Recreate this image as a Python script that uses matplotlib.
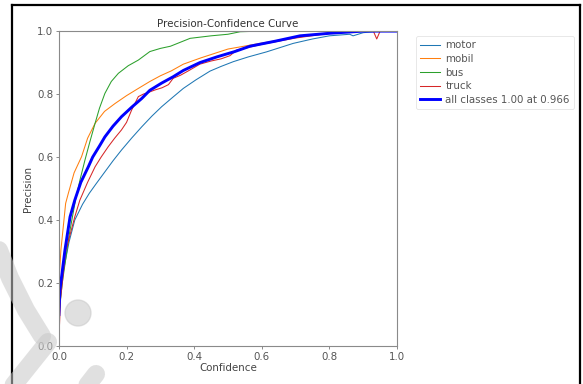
import matplotlib
matplotlib.use('Agg')
import matplotlib.pyplot as plt
from matplotlib.lines import Line2D
from matplotlib.patches import Circle

# values (confidence, precision) per class
motor_conf = [0.0, 0.01, 0.03, 0.047, 0.07, 0.09, 0.11, 0.136, 0.16, 0.185, 0.215, 0.245, 0.275, 0.304, 0.338,
              0.368, 0.405, 0.447, 0.48, 0.516, 0.56, 0.614, 0.693, 0.75, 0.8, 0.86, 0.87, 0.9, 0.95, 1.0]
motor_prec = [0.12, 0.22, 0.33, 0.40, 0.45, 0.485, 0.515, 0.553, 0.588, 0.622, 0.66, 0.696, 0.73, 0.76, 0.791,
              0.818, 0.845, 0.873, 0.888, 0.903, 0.918, 0.934, 0.961, 0.975, 0.985, 0.99, 0.985, 0.995, 1.0, 1.0]

mobil_conf = [0.0, 0.006, 0.02, 0.028, 0.045, 0.067, 0.085, 0.107, 0.135, 0.166, 0.2, 0.235, 0.269, 0.3, 0.333,
              0.368, 0.42, 0.5, 0.6, 0.7, 0.8, 0.85, 1.0]
mobil_prec = [0.2, 0.305, 0.453, 0.485, 0.55, 0.601, 0.66, 0.707, 0.745, 0.77, 0.795, 0.818, 0.84, 0.858, 0.874,
              0.895, 0.915, 0.943, 0.962, 0.98, 0.995, 1.0, 1.0]

bus_conf = [0.0, 0.01, 0.03, 0.049, 0.063, 0.077, 0.092, 0.107, 0.12, 0.136, 0.155, 0.176, 0.205, 0.235, 0.269,
            0.3, 0.33, 0.388, 0.45, 0.5, 0.536, 0.6, 1.0]
bus_prec = [0.1, 0.2, 0.35, 0.463, 0.53, 0.59, 0.65, 0.707, 0.755, 0.802, 0.84, 0.866, 0.89, 0.908, 0.935,
            0.945, 0.952, 0.977, 0.985, 0.99, 0.998, 1.0, 1.0]

truck_conf = [0.0, 0.005, 0.02, 0.047, 0.062, 0.085, 0.107, 0.125, 0.146, 0.165, 0.185, 0.2, 0.215, 0.235, 0.25,
              0.269, 0.284, 0.305, 0.324, 0.338, 0.36, 0.385, 0.417, 0.45, 0.48, 0.506, 0.515, 0.526, 0.56, 0.6,
              0.7, 0.8, 0.9, 0.93, 0.94, 0.95, 1.0]
truck_prec = [0.02, 0.15, 0.3, 0.41, 0.463, 0.52, 0.569, 0.60, 0.633, 0.66, 0.686, 0.71, 0.749, 0.792, 0.80,
              0.807, 0.813, 0.82, 0.83, 0.85, 0.86, 0.875, 0.895, 0.905, 0.912, 0.922, 0.93, 0.94, 0.948, 0.958,
              0.978, 0.993, 1.0, 1.0, 0.975, 1.0, 1.0]

all_conf = [0.0, 0.003, 0.018, 0.033, 0.047, 0.065, 0.087, 0.1, 0.12, 0.136, 0.16, 0.185, 0.215, 0.245, 0.269,
            0.304, 0.338, 0.368, 0.417, 0.467, 0.52, 0.565, 0.64, 0.713, 0.8, 0.9, 1.0]
all_prec = [0.1, 0.178, 0.305, 0.41, 0.463, 0.52, 0.569, 0.6, 0.635, 0.664, 0.698, 0.728, 0.758, 0.786, 0.812,
            0.835, 0.855, 0.875, 0.90, 0.918, 0.935, 0.952, 0.968, 0.985, 0.993, 1.0, 1.0]

class_names = ['motor', 'mobil', 'bus', 'truck']
all_label = 'all classes 1.00 at 0.966'
ticks = [0.0, 0.2, 0.4, 0.6, 0.8, 1.0]

fig = plt.figure(figsize=(5.83, 3.84), dpi=100)
ax = fig.add_axes([0.101, 0.099, 0.580, 0.820])

fs = 7.4
for name, c, p in zip(class_names,
                      [motor_conf, mobil_conf, bus_conf, truck_conf],
                      [motor_prec, mobil_prec, bus_prec, truck_prec]):
    ax.plot(c, p, linewidth=0.75, label=name)
ax.plot(all_conf, all_prec, linewidth=2.1, color='blue', label=all_label)

ax.set_xlim(0, 1)
ax.set_ylim(0, 1)
ax.set_xticks(ticks)
ax.set_yticks(ticks)
ax.tick_params(labelsize=fs, length=2.5, width=0.6, color='#777777', labelcolor='#555555', pad=1.5)
for s in ax.spines.values():
    s.set_color('#8a8a8a')
    s.set_linewidth(0.8)
ax.set_xlabel('Confidence', fontsize=fs, color='#444444', labelpad=1)
ax.set_ylabel('Precision', fontsize=fs, color='#444444', labelpad=3)
ax.set_title('Precision-Confidence Curve', fontsize=fs, color='#333333', pad=3)
leg = ax.legend(bbox_to_anchor=(1.04, 1), loc='upper left', fontsize=fs,
                handlelength=2.0, handletextpad=0.5, labelspacing=0.35, borderaxespad=0.5, frameon=True)
leg.get_frame().set_edgecolor('#dddddd')
leg.get_frame().set_linewidth(0.6)
for t in leg.get_texts():
    t.set_color('#555555')

# black frame round the picture
frame_kw = dict(transform=fig.transFigure, color='black', linewidth=1.6)
fig.add_artist(Line2D([12 / 583, 12 / 583], [0, 1 - 5 / 384], **frame_kw))
fig.add_artist(Line2D([12 / 583, 580 / 583], [1 - 5 / 384, 1 - 5 / 384], **frame_kw))
fig.add_artist(Line2D([580 / 583, 580 / 583], [0, 1 - 5 / 384], **frame_kw))

# faint watermark strokes, bottom left
px = fig.dpi_scale_trans
def pt(x, y):
    return x / 100, (384 - y) / 100
wm = dict(transform=px, color='#c8c8c8', alpha=0.55, solid_capstyle='round', zorder=5)
xa, ya = zip(pt(-5, 240), pt(10, 278), pt(26, 310), pt(42, 336))
fig.add_artist(Line2D(xa, ya, linewidth=13, **wm))
xa, ya = zip(pt(48, 342), pt(8, 392))
fig.add_artist(Line2D(xa, ya, linewidth=13, **wm))
xa, ya = zip(pt(96, 374), pt(82, 392))
fig.add_artist(Line2D(xa, ya, linewidth=13, **wm))
fig.add_artist(Circle(pt(78, 313), 0.13, transform=px, color='#c8c8c8', alpha=0.55, zorder=5))

fig.savefig('out.png', dpi=100)
